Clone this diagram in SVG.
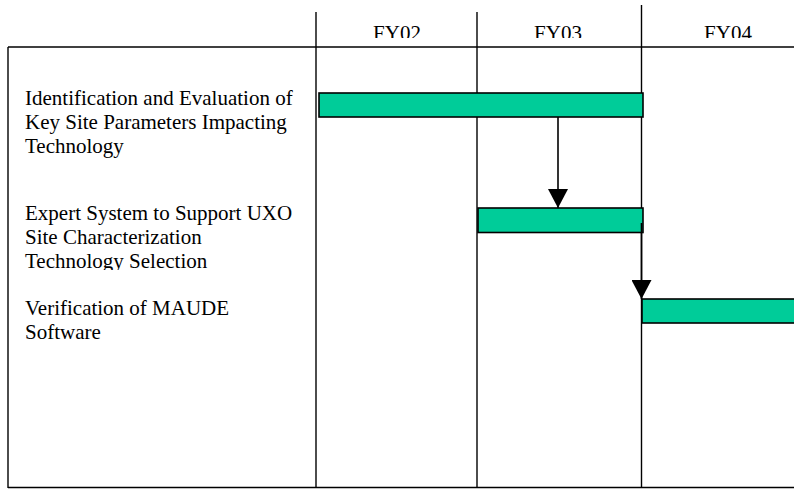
<svg xmlns="http://www.w3.org/2000/svg" width="794" height="489" viewBox="0 0 794 489">
<style>
.grid{stroke:#000;stroke-width:1.4;fill:none}
.bar{fill:#00CC99;stroke:#000;stroke-width:1.6}
.lbl{font-family:"Liberation Serif","Times New Roman",serif;font-size:21px;fill:#000}
.hdr{font-family:"Liberation Serif","Times New Roman",serif;font-size:21px;fill:#000;text-anchor:middle}
.conn{stroke:#000;stroke-width:1.6;fill:none}
</style>
<defs>
<marker id="ah" markerWidth="19" markerHeight="20" refX="19" refY="10" orient="auto" markerUnits="userSpaceOnUse" viewBox="0 0 19 20">
<path d="M0,0 L19,10 L0,20 Z" fill="#000"/>
</marker>
<clipPath id="hclip"><rect x="300" y="0" width="494" height="38"/></clipPath>
<clipPath id="tclip"><rect x="0" y="0" width="330" height="270"/></clipPath>
</defs>
<rect x="0" y="0" width="794" height="489" fill="#fff"/>
<g id="grid">
<line class="grid" x1="8" y1="47" x2="794" y2="47"/>
<line class="grid" x1="8" y1="47" x2="8" y2="488"/>
<line class="grid" x1="8" y1="487.5" x2="794" y2="487.5"/>
<line class="grid" x1="316" y1="12" x2="316" y2="488"/>
<line class="grid" x1="477" y1="12" x2="477" y2="488"/>
<line class="grid" x1="641.5" y1="5" x2="641.5" y2="488"/>
</g>
<g id="headers" clip-path="url(#hclip)">
<text class="hdr" x="397" y="39.5">FY02</text>
<text class="hdr" x="558" y="39.5">FY03</text>
<text class="hdr" x="728" y="39.5">FY04</text>
</g>
<g id="task1">
<text class="lbl" x="25" y="105">Identification and Evaluation of</text>
<text class="lbl" x="25" y="129">Key Site Parameters Impacting</text>
<text class="lbl" x="25" y="153">Technology</text>
<rect class="bar" x="319" y="93" width="324" height="24"/>
</g>
<g id="task2">
<g clip-path="url(#tclip)">
<text class="lbl" x="25" y="220">Expert System to Support UXO</text>
<text class="lbl" x="25" y="244">Site Characterization</text>
<text class="lbl" x="25" y="268">Technology Selection</text>
</g>
<rect class="bar" x="478" y="208" width="165" height="24.5"/>
</g>
<g id="task3">
<text class="lbl" x="25" y="315">Verification of MAUDE</text>
<text class="lbl" x="25" y="339">Software</text>
<rect class="bar" x="642" y="299" width="160" height="24"/>
</g>
<g id="connectors">
<line class="conn" x1="558" y1="117" x2="558" y2="208" marker-end="url(#ah)"/>
<line class="conn" x1="641.5" y1="223" x2="641.5" y2="299" marker-end="url(#ah)"/>
</g>
</svg>
